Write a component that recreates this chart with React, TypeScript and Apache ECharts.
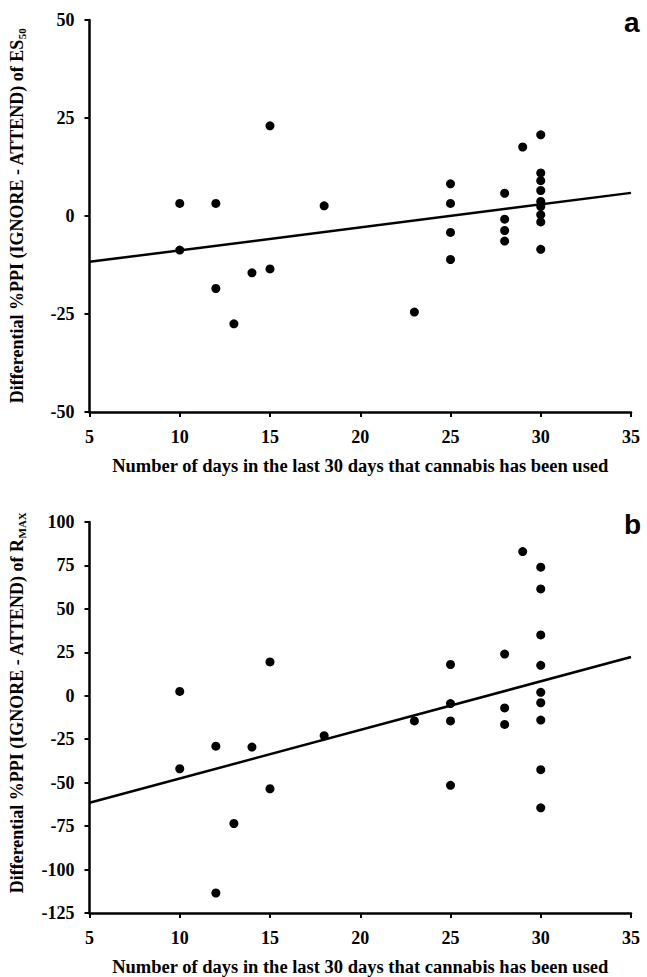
import React, { useEffect, useRef } from "react";
import * as echarts from "echarts";

// Panel a: differential %PPI of ES50
const daysA = [10, 10, 12, 12, 13, 14, 15, 15, 18, 23, 25, 25, 25, 25, 28, 28, 28, 28, 29, 30, 30, 30, 30, 30, 30, 30, 30, 30];
const valuesA = [3.2, -8.7, 3.2, -18.5, -27.5, -14.5, 23.0, -13.5, 2.6, -24.5, 8.2, 3.2, -4.2, -11.1, 5.8, -0.8, -3.7, -6.4, 17.6, 20.7, 11.0, 9.0, 6.5, 3.7, 2.4, 0.3, -1.5, -8.5];
const trendXA = [5, 35];
const trendYA = [-11.7, 5.9];

// Panel b: differential %PPI of RMAX
const daysB = [10, 10, 12, 12, 13, 14, 15, 15, 18, 23, 25, 25, 25, 25, 28, 28, 28, 29, 30, 30, 30, 30, 30, 30, 30, 30, 30];
const valuesB = [2.5, -42.0, -29.0, -113.5, -73.5, -29.5, 19.5, -53.5, -23.0, -14.5, 18.0, -4.5, -14.5, -51.5, 24.0, -7.0, -16.5, 83.0, 74.0, 61.5, 35.0, 17.5, 2.0, -4.0, -14.0, -42.5, -64.5];
const trendXB = [5, 35];
const trendYB = [-61.6, 22.3];

const xTicks = { min: 5, max: 35, interval: 5 };
const yTicksA = { min: -50, max: 50, interval: 25 };
const yTicksB = { min: -125, max: 100, interval: 25 };

const xTitle = "Number of days in the last 30 days that cannabis has been used";
const yTitleA = "Differential %PPI (IGNORE - ATTEND) of ES{s|50}";
const yTitleB = "Differential %PPI (IGNORE - ATTEND) of R{s|MAX}";

const SERIF = "Liberation Serif";

export default function App() {
  const ref = useRef<HTMLDivElement>(null);
  useEffect(() => {
    if (!ref.current) return;
    const chart = echarts.init(ref.current, null, { renderer: "svg" });
    const axisLine = { show: true, onZero: false, lineStyle: { color: "#000", width: 2.5 } };
    const axisTick = { show: true, inside: false, length: 5, lineStyle: { color: "#000", width: 2 } };
    const labelStyle = { color: "#000", fontFamily: SERIF, fontWeight: "bold" as const, fontSize: 18 };
    const mkX = (gridIndex: number) => ({
      type: "value",
      gridIndex,
      ...xTicks,
      axisLine,
      axisTick,
      splitLine: { show: false },
      axisLabel: { ...labelStyle, margin: 16 },
      name: xTitle,
      nameLocation: "middle",
      nameGap: 44,
      nameTextStyle: { ...labelStyle, fontSize: 18.5 },
    });
    const mkY = (gridIndex: number, t: { min: number; max: number; interval: number }) => ({
      type: "value",
      gridIndex,
      ...t,
      axisLine,
      axisTick,
      splitLine: { show: false },
      axisLabel: { ...labelStyle, margin: 15 },
    });
    const rich = {
      s: { fontFamily: SERIF, fontWeight: "bold", fontSize: 11, verticalAlign: "bottom", padding: [9, 0, 0, 0], fill: "#000" },
    };
    const option: any = {
      animation: false,
      backgroundColor: "#fff",
      textStyle: { fontFamily: SERIF, fontWeight: "bold", color: "#000" },
      title: [
        { text: "a", left: 619, top: 3, textStyle: { fontFamily: "Liberation Sans", fontWeight: "bold", fontSize: 28, color: "#000" } },
        { text: "b", left: 619, top: 505, textStyle: { fontFamily: "Liberation Sans", fontWeight: "bold", fontSize: 28, color: "#000" } },
      ],
      grid: [
        { left: 89.5, right: 16, top: 20, height: 392 },
        { left: 89.5, right: 16, top: 522, height: 392 },
      ],
      xAxis: [mkX(0), mkX(1)],
      yAxis: [mkY(0, yTicksA), mkY(1, yTicksB)],
      graphic: [
        {
          type: "text",
          x: 17,
          y: 216,
          rotation: Math.PI / 2,
          style: { text: yTitleA, font: `bold 18px ${SERIF}`, fill: "#000", align: "center", verticalAlign: "middle", rich },
        },
        {
          type: "text",
          x: 17,
          y: 703,
          rotation: Math.PI / 2,
          style: { text: yTitleB, font: `bold 18px ${SERIF}`, fill: "#000", align: "center", verticalAlign: "middle", rich },
        },
      ],
      series: [
        {
          type: "scatter",
          xAxisIndex: 0,
          yAxisIndex: 0,
          symbol: "circle",
          symbolSize: 9,
          itemStyle: { color: "#000", opacity: 1 },
          data: daysA.map((d, i) => [d, valuesA[i]]),
          z: 3,
        },
        {
          type: "line",
          xAxisIndex: 0,
          yAxisIndex: 0,
          symbol: "none",
          lineStyle: { color: "#000", width: 2.5 },
          data: trendXA.map((d, i) => [d, trendYA[i]]),
          z: 2,
        },
        {
          type: "scatter",
          xAxisIndex: 1,
          yAxisIndex: 1,
          symbol: "circle",
          symbolSize: 9,
          itemStyle: { color: "#000", opacity: 1 },
          data: daysB.map((d, i) => [d, valuesB[i]]),
          z: 3,
        },
        {
          type: "line",
          xAxisIndex: 1,
          yAxisIndex: 1,
          symbol: "none",
          lineStyle: { color: "#000", width: 2.5 },
          data: trendXB.map((d, i) => [d, trendYB[i]]),
          z: 2,
        },
      ],
    };
    chart.setOption(option);
    return () => chart.dispose();
  }, []);
  return (
    <div
      ref={ref}
      style={{ position: "fixed", left: 0, top: 0, width: 647, height: 977, background: "#fff" }}
    />
  );
}
